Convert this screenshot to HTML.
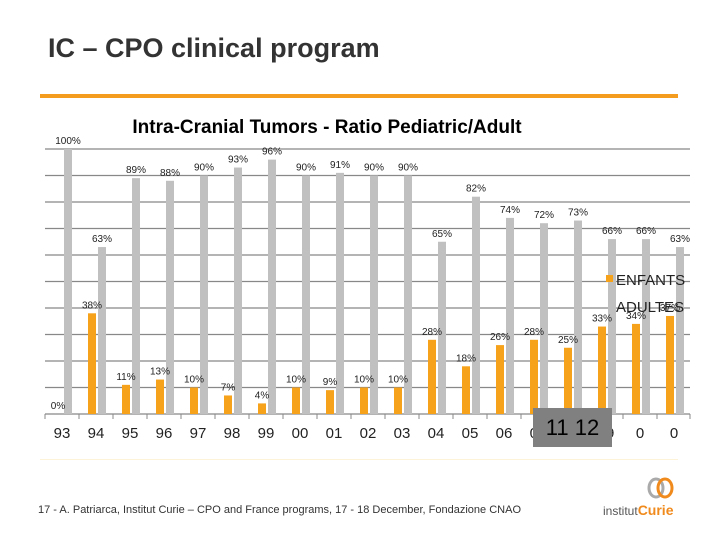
<!DOCTYPE html>
<html><head><meta charset="utf-8"><style>
body{margin:0;background:#fff;}
#root{position:relative;width:720px;height:540px;overflow:hidden;font-family:"Liberation Sans",sans-serif;}
</style></head><body>
<div id="root">
<div style="position:absolute;left:48px;top:33px;font-size:27px;font-weight:bold;color:#333;">IC – CPO clinical program</div>
<div style="position:absolute;left:40px;top:94px;width:638px;height:4px;background:#f39c1e;"></div>
<div style="position:absolute;left:40px;top:459px;width:638px;height:1px;background:#fdf3d8;"></div>
<div style="position:absolute;left:38px;top:504px;font-size:11px;color:#333;">17 - A. Patriarca, Institut Curie – CPO and France programs, 17 - 18 December, Fondazione CNAO</div>
<svg style="position:absolute;left:600px;top:475px" width="90" height="45">
<ellipse cx="56" cy="13" rx="7" ry="9" fill="none" stroke="#aaa" stroke-width="3"/>
<ellipse cx="65" cy="13" rx="7" ry="9" fill="none" stroke="#f08a1c" stroke-width="3"/>
<text x="3" y="40" font-size="12" fill="#555" font-family="Liberation Sans">institut<tspan fill="#f08a1c" font-weight="bold" font-size="14">Curie</tspan></text>
</svg>
<svg id="chart" width="720" height="540" style="position:absolute;left:0;top:0"></svg>
<div style="position:absolute;left:533px;top:408px;width:79px;height:39px;background:#808080;font-size:22px;color:#000;text-align:center;line-height:39px;">11 12</div>
</div>
<script>
const categories=["93","94","95","96","97","98","99","00","01","02","03","04","05","06","07","08","09","0","0"];
const enfants=[0,38,11,13,10,7,4,10,9,10,10,28,18,26,28,25,33,34,37];
const adultes=[100,63,89,88,90,93,96,90,91,90,90,65,82,74,72,73,66,66,63];
const yTicks=[0,10,20,30,40,50,60,70,80,90,100];
const NS="http://www.w3.org/2000/svg";
const svg=document.getElementById('chart');
const x0=45,x1=690,yb=414,yt=149;
const step=34,first=62;
const xC=i=>first+step*i;
const yS=v=>yb-(yb-yt)*v/100;
function mk(t,a){const e=document.createElementNS(NS,t);for(const k in a)e.setAttribute(k,a[k]);svg.appendChild(e);return e;}
const title=mk('text',{x:327,y:133,'text-anchor':'middle','font-size':19,'font-weight':'bold','font-family':'Liberation Sans',fill:'#000'});
title.textContent='Intra-Cranial Tumors - Ratio Pediatric/Adult';


yTicks.forEach(v=>{const l=mk('line',{x1:x0,x2:x1,y1:yS(v),y2:yS(v),stroke:'#888','stroke-width':1.3});

});
categories.forEach((c,i)=>{
 const tk=mk('line',{x1:xC(i)-17,x2:xC(i)-17,y1:yb,y2:yb+5,stroke:'#888'});
 
 
 const t=mk('text',{x:xC(i),y:438,'text-anchor':'middle','font-size':15,'font-family':'Liberation Sans',fill:'#222'});
 t.textContent=c;
 
 
});
mk('line',{x1:x1,x2:x1,y1:yb,y2:yb+5,stroke:'#888'});
function bars(vals,off,color,name){
 vals.forEach((v,i)=>{
  const r=mk('rect',{x:xC(i)+off-4,y:yS(v),width:8,height:yb-yS(v),fill:color});
  
  
  const t=mk('text',{x:xC(i)+off,y:yS(v)-5,'text-anchor':'middle','font-size':10,'font-family':'Liberation Sans',fill:'#222'});
  t.textContent=v+'%';
  
  
 });
}
bars(adultes,6,'#c0c0c0','adultes');
bars(enfants,-4,'#f7a21b','enfants');
const ls=mk('rect',{x:606,y:275,width:7,height:7,fill:'#f7a21b'});


const l1=mk('text',{x:616,y:285,'font-size':15,'font-family':'Liberation Sans',fill:'#222'});
l1.textContent='ENFANTS';


const l2=mk('text',{x:616,y:312,'font-size':15,'font-family':'Liberation Sans',fill:'#222'});
l2.textContent='ADULTES';


</script>
</body></html>
